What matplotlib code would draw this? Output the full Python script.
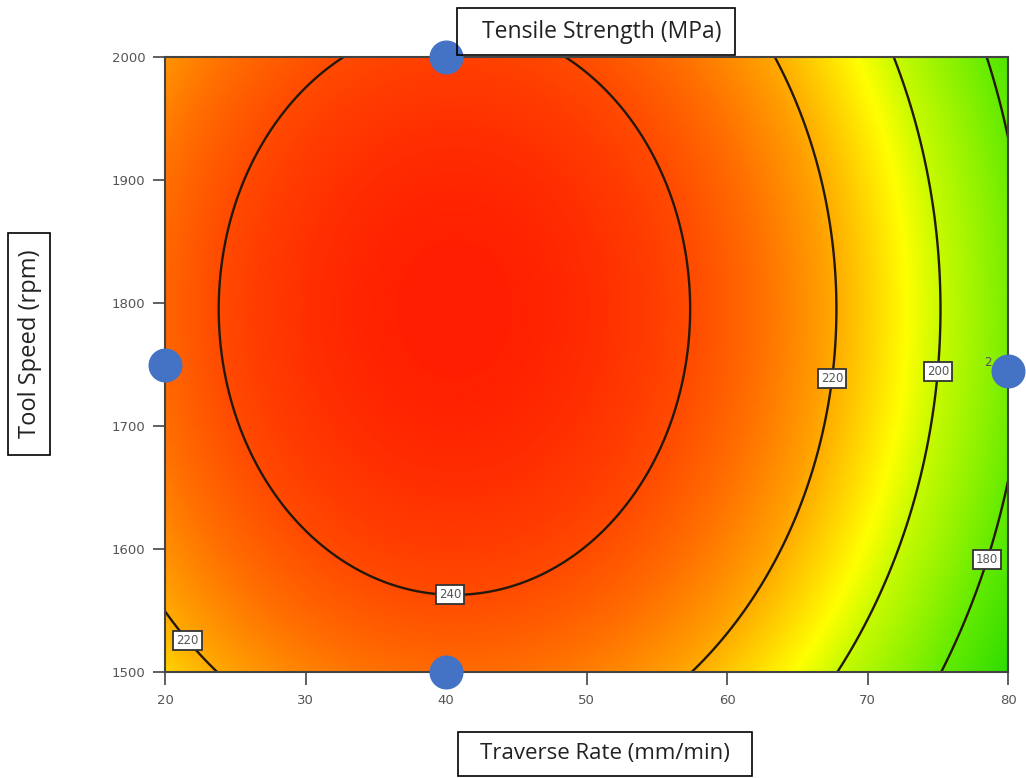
import numpy as np
import matplotlib
matplotlib.use('Agg')
import matplotlib.pyplot as plt
from matplotlib.colors import LinearSegmentedColormap, Normalize
from matplotlib.patches import Rectangle

# Response-surface coefficients
ts_max = 252.3      # peak tensile strength (MPa)
x_opt = 40.6        # traverse rate at peak
y_opt = 1795.0      # tool speed at peak
a_x = 0.0437        # curvature along traverse rate
b_y = 2.28e-4       # curvature along tool speed

contour_levels = [180, 200, 220, 240]
x_range = [20, 80]
y_range = [1500, 2000]
x_ticks = [20, 30, 40, 50, 60, 70, 80]
y_ticks = [1500, 1600, 1700, 1800, 1900, 2000]

design_x = [40, 20, 40, 80]
design_y = [2000, 1750, 1500, 1745]

label_positions = [(40.3, 1567), (67.3, 1739), (74.6, 1745), (77.8, 1594), (21.5, 1525)]

color_values = [160, 180, 200, 207, 215, 222, 232, 240, 252.3]
color_list = [(30, 215, 0), (100, 235, 0), (200, 250, 0), (255, 255, 0), (255, 205, 0),
              (255, 160, 0), (255, 110, 0), (255, 75, 0), (255, 30, 0)]

vmin, vmax = color_values[0], color_values[-1]
cmap = LinearSegmentedColormap.from_list(
    'ts', [((v - vmin) / (vmax - vmin), tuple(c / 255 for c in col))
           for v, col in zip(color_values, color_list)])

xs = np.linspace(x_range[0], x_range[1], 300)
ys = np.linspace(y_range[0], y_range[1], 300)
X, Y = np.meshgrid(xs, ys)
Z = ts_max - a_x * (X - x_opt) ** 2 - b_y * (Y - y_opt) ** 2

fig = plt.figure(figsize=(10.26, 7.78), dpi=100)
W, H = 1026, 778
ax = fig.add_axes([165 / W, 1 - 672 / H, 843 / W, 615 / H])

ax.pcolormesh(X, Y, Z, cmap=cmap, norm=Normalize(vmin, vmax), shading='gouraud', rasterized=True)
cs = ax.contour(X, Y, Z, levels=contour_levels, colors='#241808', linewidths=1.7)
labels = ax.clabel(cs, fmt='%d', fontsize=8.5, manual=label_positions, inline=False)
for t in labels:
    t.set_rotation(0)
    t.set_color('#555555')
    t.set_zorder(5)
    t.set_bbox(dict(boxstyle='square,pad=0.25', fc='white', ec='#333333', lw=1.3))

ax.text(78.85, 1752, '2', fontsize=8.5, color='#555555', ha='right', va='center', zorder=4)

ax.plot(design_x, design_y, 'o', color='#4472C4', markersize=23.5, clip_on=False, zorder=10)

ax.set_xlim(x_range)
ax.set_ylim(y_range)
ax.set_xticks(x_ticks)
ax.set_yticks(y_ticks)
ax.tick_params(axis='both', direction='out', length=9, width=1.2, color='#444444',
               labelsize=9.5, labelcolor='#555555')
ax.tick_params(axis='x', pad=7)
ax.tick_params(axis='y', pad=5)
for s in ax.spines.values():
    s.set_color('#444444')
    s.set_linewidth(1.5)

font = ['Open Sans', 'DejaVu Sans']

def box(x0, y0, x1, y1):
    fig.patches.append(Rectangle((x0 / W, 1 - y1 / H), (x1 - x0) / W, (y1 - y0) / H,
                                 transform=fig.transFigure, fill=False, ec='black', lw=1.2))

box(457, 8, 735, 55)
fig.text(602 / W, 1 - 32 / H, 'Tensile Strength (MPa)', ha='center', va='center',
         fontsize=16.5, family=font, color='#222222')
box(458, 732, 752, 776)
fig.text(605 / W, 1 - 754 / H, 'Traverse Rate (mm/min)', ha='center', va='center',
         fontsize=16, family=font, color='#222222')
box(8, 233, 50, 455)
fig.text(30 / W, 1 - 344 / H, 'Tool Speed (rpm)', ha='center', va='center', rotation=90,
         fontsize=17, family=font, color='#222222')

fig.savefig('out.png', dpi=100)
